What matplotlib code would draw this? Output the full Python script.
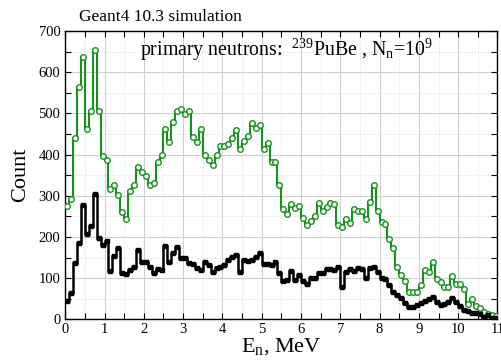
import numpy as np
import matplotlib
matplotlib.use("Agg")
import matplotlib.pyplot as plt
from matplotlib.ticker import MultipleLocator

plt.rcParams['font.family'] = ['Liberation Serif', 'DejaVu Serif']
plt.rcParams['mathtext.fontset'] = 'custom'
plt.rcParams['mathtext.rm'] = 'Liberation Serif'
plt.rcParams['mathtext.it'] = 'Liberation Serif:italic'
plt.rcParams['mathtext.default'] = 'rm'

# 0.1 MeV bins, 0..11 MeV
bin_width = 0.1
n_bins = 110

# total spectrum (green, open circles)
green = [274, 292, 440, 563, 638, 462, 506, 654, 506, 397,
         386, 316, 326, 303, 261, 243, 312, 325, 369, 357,
         348, 326, 331, 383, 398, 463, 430, 478, 505, 511,
         498, 506, 442, 430, 461, 399, 387, 375, 399, 420,
         421, 425, 440, 459, 414, 433, 444, 476, 464, 472,
         414, 428, 383, 381, 327, 267, 256, 280, 271, 274,
         245, 228, 238, 250, 282, 262, 272, 282, 281, 229,
         224, 244, 233, 268, 262, 264, 244, 286, 326, 264,
         237, 232, 195, 173, 126, 108, 92, 67, 67, 67,
         83, 120, 116, 139, 98, 90, 79, 79, 104, 86,
         86, 73, 37, 50, 33, 28, 18, 13, 10, 7]

# second spectrum (black, filled squares)
black = [45, 63, 136, 185, 278, 207, 227, 304, 197, 181,
         191, 117, 154, 173, 112, 109, 120, 128, 168, 139,
         139, 128, 113, 122, 120, 178, 140, 162, 175, 150,
         150, 136, 134, 124, 120, 138, 132, 116, 124, 128,
         132, 144, 152, 156, 114, 144, 142, 144, 152, 162,
         134, 134, 131, 139, 113, 92, 96, 118, 96, 108,
         92, 86, 100, 100, 112, 112, 122, 122, 120, 126,
         78, 116, 122, 118, 124, 122, 100, 124, 128, 116,
         100, 97, 84, 67, 59, 51, 39, 31, 29, 35,
         39, 45, 49, 53, 43, 35, 37, 43, 51, 43,
         32, 23, 19, 16, 15, 12, 6, 10, 3, 3]

edges = np.arange(n_bins + 1) * bin_width
centers = edges[:-1] + bin_width / 2

fig = plt.figure(figsize=(5.02, 3.6), dpi=100)
ax = fig.add_axes([0.130, 0.113, 0.861, 0.801])

gcol = '#15921a'
ax.stairs(green, edges, baseline=None, color=gcol, lw=1.5, zorder=3)
ax.plot(centers, green, 'o', ms=4, mfc='white', mec=gcol, mew=1.0, zorder=4)
ax.stairs(black, edges, baseline=None, color='black', lw=1.8, zorder=3)
ax.plot(centers, black, 's', ms=2.6, color='black', zorder=4)

ax.set_xlim(0, 11)
ax.set_ylim(0, 700)
ax.xaxis.set_major_locator(MultipleLocator(1))
ax.xaxis.set_minor_locator(MultipleLocator(0.5))
ax.yaxis.set_major_locator(MultipleLocator(100))
ax.yaxis.set_minor_locator(MultipleLocator(50))
ax.grid(which='major', color='#d0d0d0', lw=0.8)
ax.grid(which='minor', color='#dcdcdc', lw=0.7, ls=':')
ax.set_axisbelow(True)
ax.tick_params(which='both', direction='in', top=True, right=True,
               length=4, width=0.8, labelsize=10.5)
ax.tick_params(axis='x', pad=3)
for s in ax.spines.values():
    s.set_linewidth(1.0)

ax.set_xlabel('E$_{\\rm n}$, MeV', fontsize=16, labelpad=0)
ax.set_ylabel('Count', fontsize=16, labelpad=6)

fig.text(0.157, 0.953, 'Geant4 10.3 simulation', fontsize=12.5, va='center')
ax.text(1.9, 655, 'primary neutrons:  $^{239}$PuBe , N$_{\\rm n}$=10$^{9}$',
        fontsize=14.3, va='center')

fig.savefig('out.png', dpi=100)
